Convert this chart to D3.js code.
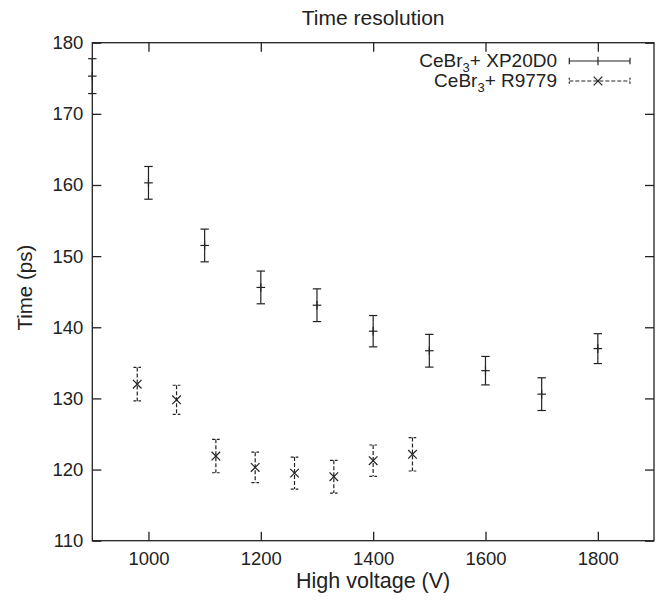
<!DOCTYPE html>
<html><head><meta charset="utf-8">
<script src="https://cdn.jsdelivr.net/npm/d3@7"></script>
<style>body{margin:0;background:#fff}svg{display:block}text{font-family:"Liberation Sans",Arial,sans-serif;fill:#222}</style>
</head><body><svg id="c" width="659" height="602"></svg>
<script>
const xpVoltage = [900, 1000, 1100, 1200, 1300, 1400, 1500, 1600, 1700, 1800];
const xpTime    = [175.3, 160.3, 151.5, 145.6, 143.1, 139.45, 136.7, 133.9, 130.6, 137.0];
const xpErr     = [2.45, 2.3, 2.3, 2.3, 2.3, 2.2, 2.3, 2.0, 2.3, 2.1];
const rVoltage  = [980, 1050, 1120, 1190, 1260, 1330, 1400, 1470];
const rTime     = [132.0, 129.8, 121.9, 120.3, 119.5, 119.0, 121.25, 122.15];
const rErr      = [2.35, 2.05, 2.35, 2.15, 2.25, 2.3, 2.2, 2.35];
const xTicks = [1000, 1200, 1400, 1600, 1800];
const yTicks = [110, 120, 130, 140, 150, 160, 170, 180];
const seriesNames = ["XP20D0", "R9779"];

const svg = d3.select("#c");
const L = 92.3, R = 654, T = 42.7, B = 540.7;
const x = d3.scaleLinear().domain([900, 1900]).range([L, R]);
const y = d3.scaleLinear().domain([110, 180]).range([B, T]);
const col = "#222";
const FONT = '"Liberation Sans",Arial,sans-serif';

// frame
svg.append("rect").attr("x", L).attr("y", T).attr("width", R - L).attr("height", B - T)
  .attr("fill", "none").attr("stroke", col).attr("stroke-width", 1.3);

// axes (ticks inward, mirrored)
const fs = "18.5px";
const gx = svg.append("g").attr("transform", `translate(0,${B})`)
  .call(d3.axisBottom(x).tickValues(xTicks).tickSize(-9).tickPadding(11).tickFormat(d3.format("d")));
const gxt = svg.append("g").attr("transform", `translate(0,${T})`)
  .call(d3.axisTop(x).tickValues(xTicks).tickSize(-9).tickFormat(""));
const gy = svg.append("g").attr("transform", `translate(${L},0)`)
  .call(d3.axisLeft(y).tickValues(yTicks).tickSize(-9).tickPadding(9).tickFormat(d3.format("d")));
const gyr = svg.append("g").attr("transform", `translate(${R},0)`)
  .call(d3.axisRight(y).tickValues(yTicks).tickSize(-9).tickFormat(""));
[gx, gxt, gy, gyr].forEach(g => {
  g.select(".domain").remove();
  g.selectAll(".tick line").attr("stroke", col).attr("stroke-width", 1.3);
  g.selectAll("text").attr("font-size", fs).attr("fill", col).style("font-family", FONT);
});

// titles
svg.append("text").attr("x", (L + R) / 2).attr("y", 25).attr("text-anchor", "middle")
  .attr("font-size", "21px").text("Time resolution");
svg.append("text").attr("x", (L + R) / 2).attr("y", 588).attr("text-anchor", "middle")
  .attr("font-size", "21.5px").text("High voltage (V)");
svg.append("text").attr("transform", `translate(32,${(T + B) / 2 - 4}) rotate(-90)`)
  .attr("text-anchor", "middle").attr("font-size", "20.5px").text("Time (ps)");

const plot = svg.append("g");

function errBar(g, cx, yTop, yBot, cy, capW, dashed, marker) {
  const s = g.append("g").attr("stroke", col).attr("stroke-width", 1.2).attr("fill", "none");
  const da = dashed ? "4,2" : null;
  s.append("line").attr("x1", cx).attr("x2", cx).attr("y1", yTop).attr("y2", yBot).attr("stroke-dasharray", da);
  s.append("line").attr("x1", cx - capW).attr("x2", cx + capW).attr("y1", yTop).attr("y2", yTop).attr("stroke-dasharray", dashed ? "3,2" : null);
  s.append("line").attr("x1", cx - capW).attr("x2", cx + capW).attr("y1", yBot).attr("y2", yBot).attr("stroke-dasharray", dashed ? "3,2" : null);
  if (marker === "+") {
    s.append("line").attr("x1", cx - 4.3).attr("x2", cx + 4.3).attr("y1", cy).attr("y2", cy);
    s.append("line").attr("x1", cx).attr("x2", cx).attr("y1", cy - 4.3).attr("y2", cy + 4.3);
  } else {
    s.append("line").attr("x1", cx - 4.3).attr("x2", cx + 4.3).attr("y1", cy - 4.3).attr("y2", cy + 4.3);
    s.append("line").attr("x1", cx - 4.3).attr("x2", cx + 4.3).attr("y1", cy + 4.3).attr("y2", cy - 4.3);
  }
}

xpVoltage.forEach((v, i) => {
  errBar(plot, x(v), y(xpTime[i] + xpErr[i]), y(xpTime[i] - xpErr[i]), y(xpTime[i]), 4.2, false, "+");
});
rVoltage.forEach((v, i) => {
  errBar(plot, x(v), y(rTime[i] + rErr[i]), y(rTime[i] - rErr[i]), y(rTime[i]), 3.8, true, "x");
});

// legend
const leg = svg.append("g");
const legRows = [{name: seriesNames[0], y: 61, base: 67, dashed: false, m: "+"},
                 {name: seriesNames[1], y: 81, base: 87, dashed: true, m: "x"}];
legRows.forEach(r => {
  const t = leg.append("text").attr("x", 557).attr("y", r.base).attr("text-anchor", "end").attr("font-size", "19px");
  t.append("tspan").text("CeBr");
  t.append("tspan").attr("dy", 5).attr("font-size", "13px").text("3");
  t.append("tspan").attr("dy", -5).text("+ " + r.name);
  const s = leg.append("g").attr("stroke", col).attr("stroke-width", 1.2);
  const da = r.dashed ? "4,2" : null;
  s.append("line").attr("x1", 569.3).attr("x2", 630).attr("y1", r.y).attr("y2", r.y).attr("stroke-dasharray", da);
  s.append("line").attr("x1", 569.3).attr("x2", 569.3).attr("y1", r.y - 3.3).attr("y2", r.y + 3.3).attr("stroke-dasharray", r.dashed ? "2,2" : null);
  s.append("line").attr("x1", 630).attr("x2", 630).attr("y1", r.y - 3.3).attr("y2", r.y + 3.3).attr("stroke-dasharray", r.dashed ? "2,2" : null);
  const cx = 598;
  if (r.m === "+") {
    s.append("line").attr("x1", cx).attr("x2", cx).attr("y1", r.y - 4.3).attr("y2", r.y + 4.3);
  } else {
    s.append("line").attr("x1", cx - 4.3).attr("x2", cx + 4.3).attr("y1", r.y - 4.3).attr("y2", r.y + 4.3);
    s.append("line").attr("x1", cx - 4.3).attr("x2", cx + 4.3).attr("y1", r.y + 4.3).attr("y2", r.y - 4.3);
  }
});
</script></body></html>
